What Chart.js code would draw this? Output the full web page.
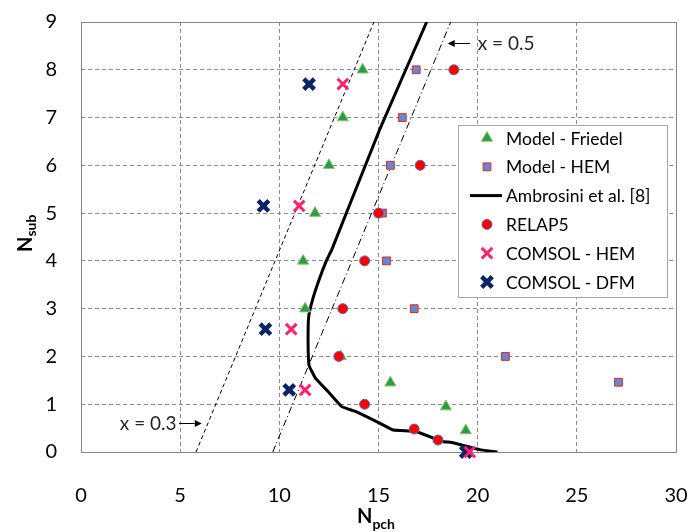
<!DOCTYPE html>
<html lang="en">
<head>
<meta charset="UTF-8">
<title>Npch - Nsub stability map</title>
<script src="https://cdn.jsdelivr.net/npm/chart.js@4.4.1/dist/chart.umd.min.js"></script>
<style>
    html, body { margin: 0; padding: 0; background: #ffffff; }
    #wrap { position: relative; width: 691px; height: 532px; }
</style>
</head>
<body>
<div id="wrap"><canvas id="chart"></canvas></div>
<script>
// values
const friedelX = [14.2, 13.2, 12.5, 11.8, 11.2, 11.3, 13.1, 15.6, 18.4, 19.4];
const friedelY = [8.0, 7.0, 6.0, 5.0, 4.0, 3.0, 2.0, 1.45, 0.95, 0.45];

const hemX = [16.9, 16.2, 15.6, 15.2, 15.4, 16.8, 21.4, 27.1];
const hemY = [8.0, 7.0, 6.0, 5.0, 4.0, 3.0, 2.0, 1.46];

const ambrosiniX = [21.0, 20.1, 18.7, 18.2, 16.9, 15.75, 15.08, 13.9, 13.15, 12.47, 11.83, 11.5, 11.45, 11.48, 11.67, 12.0, 12.39, 12.64, 15.08, 17.43];
const ambrosiniY = [0.0, 0.05, 0.2, 0.22, 0.43, 0.46, 0.6, 0.84, 0.95, 1.26, 1.54, 1.81, 2.27, 2.83, 3.18, 3.6, 4.02, 4.23, 6.77, 9.0];

const relapX = [18.8, 17.1, 15.0, 14.3, 13.2, 13.0, 14.3, 16.8, 18.0];
const relapY = [8.0, 6.0, 5.0, 4.0, 3.0, 2.0, 1.0, 0.48, 0.25];

const comsolHemX = [13.2, 11.0, 10.6, 11.3, 19.6];
const comsolHemY = [7.7, 5.15, 2.57, 1.3, 0.0];

const comsolDfmX = [11.5, 9.2, 9.3, 10.5, 19.4];
const comsolDfmY = [7.7, 5.15, 2.57, 1.3, 0.0];

// constant quality lines x = 0.3 and x = 0.5
const q03X = [5.8, 14.77];
const q03Y = [0, 9];
const q05X = [9.67, 18.64];
const q05Y = [0, 9];

const xTicks = [0, 5, 10, 15, 20, 25, 30];
const yTicks = [0, 1, 2, 3, 4, 5, 6, 7, 8, 9];

function pts(xs, ys) {
    return xs.map((x, i) => ({ x: x, y: ys[i] }));
}

const FONT = 'Lato, "Open Sans", sans-serif';

const datasets = [
    {
        label: 'Model - Friedel',
        data: pts(friedelX, friedelY),
        pointStyle: 'triangle',
        pointRadius: 6.5,
        backgroundColor: '#1fa34a',
        borderColor: '#a9b86a',
        borderWidth: 1,
        showLine: false,
        order: 4,
        clip: false
    },
    {
        label: 'Model - HEM',
        data: pts(hemX, hemY),
        pointStyle: 'rect',
        pointRadius: 5.5,
        backgroundColor: '#5b8bd0',
        borderColor: '#ff1a1a',
        borderWidth: 1,
        showLine: false,
        order: 3,
        clip: false
    },
    {
        label: 'Ambrosini et al. [8]',
        data: pts(ambrosiniX, ambrosiniY),
        showLine: true,
        pointRadius: 0,
        borderColor: '#000000',
        backgroundColor: '#000000',
        borderWidth: 3,
        tension: 0.1,
        order: 5
    },
    {
        label: 'RELAP5',
        data: pts(relapX, relapY),
        pointStyle: 'circle',
        pointRadius: 5,
        backgroundColor: '#ff0000',
        borderColor: '#4a72b8',
        borderWidth: 1,
        showLine: false,
        order: 2,
        clip: false
    },
    {
        label: 'COMSOL - HEM',
        data: pts(comsolHemX, comsolHemY),
        pointStyle: 'crossRot',
        pointRadius: 7.5,
        borderColor: '#ff1f6b',
        backgroundColor: '#ff1f6b',
        borderWidth: 3,
        showLine: false,
        order: 0,
        clip: false
    },
    {
        label: 'COMSOL - DFM',
        data: pts(comsolDfmX, comsolDfmY),
        pointStyle: 'crossRot',
        pointRadius: 7.5,
        borderColor: '#0a2466',
        backgroundColor: '#0a2466',
        borderWidth: 4.5,
        showLine: false,
        order: 1,
        clip: false
    },
    {
        label: 'x = 0.3',
        data: pts(q03X, q03Y),
        showLine: true,
        pointRadius: 0,
        borderColor: '#000000',
        borderWidth: 1,
        borderDash: [4, 3],
        order: 6,
        inLegend: false
    },
    {
        label: 'x = 0.5',
        data: pts(q05X, q05Y),
        showLine: true,
        pointRadius: 0,
        borderColor: '#000000',
        borderWidth: 1,
        borderDash: [7, 3, 1, 3],
        order: 6,
        inLegend: false
    }
];

function arrow(ctx, x1, y1, x2, y2) {
    // line from (x1,y1) to tip (x2,y2)
    const ang = Math.atan2(y2 - y1, x2 - x1);
    const len = 7, half = 3.5;
    ctx.beginPath();
    ctx.moveTo(x1, y1);
    ctx.lineTo(x2 - Math.cos(ang) * len, y2 - Math.sin(ang) * len);
    ctx.stroke();
    ctx.beginPath();
    ctx.moveTo(x2, y2);
    ctx.lineTo(x2 - Math.cos(ang) * len - Math.sin(ang) * half, y2 - Math.sin(ang) * len + Math.cos(ang) * half);
    ctx.lineTo(x2 - Math.cos(ang) * len + Math.sin(ang) * half, y2 - Math.sin(ang) * len - Math.cos(ang) * half);
    ctx.closePath();
    ctx.fill();
}

const extras = {
    id: 'extras',
    beforeDatasetsDraw(chart) {
        const { ctx, chartArea: a } = chart;
        ctx.save();
        ctx.strokeStyle = '#868686';
        ctx.lineWidth = 1;
        ctx.strokeRect(Math.round(a.left) + 0.5, Math.round(a.top) + 0.5,
            Math.round(a.right - a.left), Math.round(a.bottom - a.top));
        ctx.restore();
    },
    afterDatasetsDraw(chart) {
        const { ctx, scales: { x, y } } = chart;
        ctx.save();

        // annotations for the quality lines
        ctx.strokeStyle = '#000';
        ctx.fillStyle = '#000';
        ctx.lineWidth = 1;
        const ay5 = Math.round(y.getPixelForValue(8.55)) + 0.5;
        arrow(ctx, x.getPixelForValue(19.62), ay5, x.getPixelForValue(18.49), ay5);
        const ay3 = Math.round(y.getPixelForValue(0.6)) + 0.5;
        arrow(ctx, x.getPixelForValue(4.94), ay3, x.getPixelForValue(6.09), ay3);

        ctx.fillStyle = '#262626';
        ctx.font = '19px ' + FONT;
        ctx.textBaseline = 'middle';
        ctx.textAlign = 'left';
        ctx.fillText('x = 0.5', x.getPixelForValue(20.0), ay5);
        ctx.textAlign = 'right';
        ctx.fillText('x = 0.3', x.getPixelForValue(4.82), ay3);

        // legend box
        const lx = 458, ly = 125, lw = 209, lh = 172;
        ctx.fillStyle = '#ffffff';
        ctx.fillRect(lx, ly, lw, lh);
        ctx.strokeStyle = '#a6a6a6';
        ctx.strokeRect(lx + 0.5, ly + 0.5, lw, lh);

        const items = chart.data.datasets.filter(d => d.inLegend !== false);
        ctx.font = '17.5px ' + FONT;
        ctx.textAlign = 'left';
        ctx.textBaseline = 'middle';
        items.forEach((d, i) => {
            const cy = 138 + i * 28.8;
            const cx = 487;
            ctx.save();
            if (d.showLine) {
                ctx.strokeStyle = d.borderColor;
                ctx.lineWidth = d.borderWidth;
                ctx.beginPath();
                ctx.moveTo(470, cy);
                ctx.lineTo(502, cy);
                ctx.stroke();
            } else {
                ctx.fillStyle = d.backgroundColor;
                ctx.strokeStyle = d.borderColor;
                ctx.lineWidth = d.borderWidth;
                Chart.helpers.drawPoint(ctx, {
                    pointStyle: d.pointStyle,
                    radius: d.pointRadius,
                    rotation: 0,
                    borderWidth: d.borderWidth
                }, cx, cy);
            }
            ctx.restore();
            ctx.fillStyle = '#000';
            ctx.fillText(d.label, 506, cy + 1);
        });

        // axis titles with subscripts
        ctx.fillStyle = '#000';
        ctx.textAlign = 'left';
        ctx.textBaseline = 'alphabetic';
        ctx.font = 'bold 20px ' + FONT;
        ctx.fillText('N', 357, 523);
        let nw = ctx.measureText('N').width;
        ctx.font = 'bold 14px ' + FONT;
        ctx.fillText('pch', 357 + nw, 529);

        ctx.translate(32, 252);
        ctx.rotate(-Math.PI / 2);
        ctx.font = 'bold 20px ' + FONT;
        ctx.fillText('N', 0, 0);
        nw = ctx.measureText('N').width;
        ctx.font = 'bold 14px ' + FONT;
        ctx.fillText('sub', nw, 4);

        ctx.restore();
    }
};

// tick padding also pads the layout in Chart.js, so the label gap is made with
// an invisible tick mark instead
new Chart(document.getElementById('chart'), {
    type: 'scatter',
    data: { datasets: datasets },
    options: {
        responsive: true,
        maintainAspectRatio: false,
        animation: false,
        layout: { padding: { top: 22, right: 15, left: 0, bottom: 0 } },
        plugins: {
            legend: { display: false },
            tooltip: { enabled: false }
        },
        scales: {
            x: {
                type: 'linear',
                min: 0,
                max: 30,
                afterBuildTicks: s => { s.ticks = xTicks.map(v => ({ value: v })); },
                afterFit: s => { s.height = 80; },
                ticks: {
                    color: '#000',
                    font: { family: FONT, size: 20 },
                    padding: 0,
                    maxRotation: 0
                },
                grid: { color: '#8a8a8a', lineWidth: 1, drawTicks: true, tickLength: 32, tickColor: 'rgba(0,0,0,0)' },
                border: { display: false, dash: [4, 3] }
            },
            y: {
                type: 'linear',
                min: 0,
                max: 9,
                afterBuildTicks: s => { s.ticks = yTicks.map(v => ({ value: v })); },
                afterFit: s => { s.width = 81; },
                ticks: {
                    color: '#000',
                    font: { family: FONT, size: 20 },
                    padding: 0
                },
                grid: { color: '#8a8a8a', lineWidth: 1, drawTicks: true, tickLength: 24, tickColor: 'rgba(0,0,0,0)' },
                border: { display: false, dash: [4, 3] }
            }
        }
    },
    plugins: [extras]
});
</script>
</body>
</html>
